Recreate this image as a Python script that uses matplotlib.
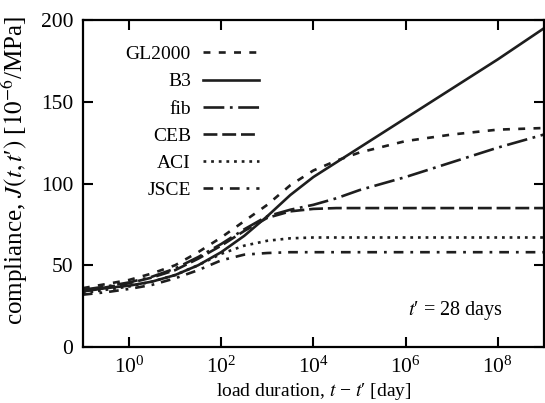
import numpy as np
import matplotlib
matplotlib.use('Agg')
import matplotlib.pyplot as plt

plt.rcParams['font.family'] = ['Liberation Serif', 'DejaVu Serif']
plt.rcParams['mathtext.fontset'] = 'stix'
plt.rcParams['lines.scale_dashes'] = False

# log10 of load duration [day]
log_t = [-1, -0.5, 0, 0.5, 1, 1.5, 2, 2.5, 3, 3.5, 4, 4.5, 5, 6, 7, 8, 9]

# compliance J(t,t') [1e-6/MPa]
gl2000 = [36, 38.5, 41, 45, 50, 58, 67, 77, 87, 99, 108, 114, 119, 126, 130, 133, 134]
b3     = [34, 36, 37.5, 40, 44, 50, 58, 68, 80, 93, 104, 113, 122, 140, 158, 176, 195]
fib    = [35, 37, 39.5, 43, 48, 55, 63, 72, 80, 84, 87, 91, 96, 104, 113, 122, 130]
ceb    = [34, 36.5, 39, 42.5, 47, 54, 62, 71, 79, 83, 84.5, 85, 85, 85, 85, 85, 85]
aci    = [33, 35, 37, 40, 44, 50, 57, 62, 65, 66.5, 67, 67, 67, 67, 67, 67, 67]
jsce   = [32, 33.5, 35.5, 38, 42, 47, 53, 56.5, 57.5, 58, 58, 58, 58, 58, 58, 58, 58]

t = 10.0 ** np.array(log_t)
col = '#1e1e1e'
lw = 1.9

fig = plt.figure(figsize=(5.45, 4.03), dpi=100)
ax = fig.add_axes([0.152, 0.139, 0.846, 0.811])

ax.plot(t, gl2000, color=col, lw=lw, linestyle=(0, (5, 6)), label='GL2000')
ax.plot(t, b3, color=col, lw=lw, linestyle='-', label='B3')
ax.plot(t, fib, color=col, lw=lw, linestyle=(0, (15, 4, 2, 4)), label='fib')
ax.plot(t, ceb, color=col, lw=lw, linestyle=(0, (10, 3.5)), label='CEB')
ax.plot(t, aci, color=col, lw=lw, linestyle=(0, (2, 3.5)), label='ACI')
ax.plot(t, jsce, color=col, lw=lw, linestyle=(0, (7, 5, 2, 5)), label='JSCE')

ax.set_xscale('log')
ax.set_xlim(1e-1, 1e9)
ax.set_ylim(0, 200)
ax.set_xticks([1, 1e2, 1e4, 1e6, 1e8])
ax.xaxis.set_minor_locator(matplotlib.ticker.NullLocator())
ax.set_yticks([0, 50, 100, 150, 200])
ax.tick_params(direction='in', length=7, width=1.5, top=True, right=True,
               labelsize=15.5)
ax.tick_params(axis='x', pad=7)
ax.tick_params(axis='y', pad=7)
for s in ax.spines.values():
    s.set_linewidth(1.6)

ax.set_xlabel("load duration, $t$ − $t$′ [day]", fontsize=14, va='top')
ax.xaxis.set_label_coords(0.5, -0.105)
ax.set_ylabel("compliance, $J(t,t$′$)$ [$10^{-6}$/MPa]", fontsize=18, va='bottom')
ax.yaxis.set_label_coords(-0.115, 0.54)

ax.text(0.911, 0.113, "$t$′ = 28 days", transform=ax.transAxes,
        ha='right', va='center', fontsize=14.5)

ax.legend(loc='upper left', bbox_to_anchor=(0.093, 0.922), frameon=False,
          markerfirst=False, fontsize=14, handlelength=2.9, handletextpad=0.6,
          labelspacing=0.49, borderpad=0, borderaxespad=0)

fig.savefig('out.png', dpi=100)
